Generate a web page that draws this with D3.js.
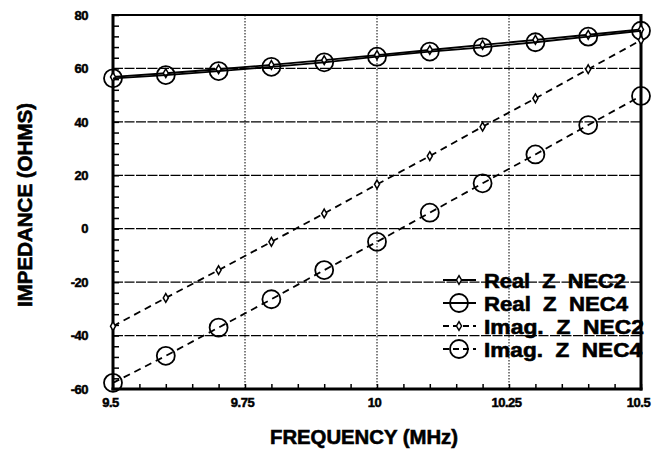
<!DOCTYPE html>
<html>
<head>
<meta charset="utf-8">
<script src="https://cdn.jsdelivr.net/npm/d3@7"></script>
<style>
  html, body { margin: 0; padding: 0; background: #fff; }
  svg { display: block; }
  text { font-family: "Liberation Sans", Arial, sans-serif; font-weight: bold; fill: #000; }
</style>
</head>
<body>
<svg id="chart" width="653" height="451"></svg>
<script>
// ---- data ----
const freqs = [9.5, 9.6, 9.7, 9.8, 9.9, 10.0, 10.1, 10.2, 10.3, 10.4, 10.5];
const realNEC2 = [56.8, 58.2, 59.7, 61.3, 63.1, 65.0, 66.9, 68.8, 70.7, 72.6, 74.6];
const realNEC4 = [56.3, 57.5, 59.0, 60.6, 62.3, 64.4, 66.3, 67.9, 69.8, 71.9, 74.1];
const imagNEC2 = [-36.5, -25.9, -15.5, -4.9, 5.7, 16.6, 27.2, 38.2, 48.8, 59.7, 70.6];
const imagNEC4 = [-57.7, -47.6, -37.0, -26.4, -15.5, -4.9, 6.0, 17.0, 27.8, 38.8, 49.7];
const xTickValues = [9.5, 9.75, 10, 10.25, 10.5];
const xTickLabels = ["9.5", "9.75", "10", "10.25", "10.5"];
const yTickValues = [-60, -40, -20, 0, 20, 40, 60, 80];
const yTickLabels = ["-60", "-40", "-20", "0", "20", "40", "60", "80"];
const seriesNames = ["Real  Z  NEC2", "Real  Z  NEC4", "Imag.  Z  NEC2", "Imag.  Z  NEC4"];
const xTitle = "FREQUENCY (MHz)";
const yTitle = "IMPEDANCE (OHMS)";

// ---- layout ----
const L = 113, R = 641, T = 15, B = 389;
const svg = d3.select("#chart");
const x = d3.scaleLinear().domain([9.5, 10.5]).range([L, R]);
const y = d3.scaleLinear().domain([-60, 80]).range([B, T]);

// gridlines
const gH = svg.append("g");
gH.selectAll("line").data([-40, -20, 0, 20, 40, 60]).enter().append("line")
  .attr("x1", L).attr("x2", R).attr("y1", d => y(d)).attr("y2", d => y(d))
  .attr("stroke", "#000").attr("stroke-width", 1.2).attr("stroke-dasharray", "10,1.5");
const gV = svg.append("g");
gV.selectAll("line").data([9.75, 10, 10.25]).enter().append("line")
  .attr("y1", T).attr("y2", B).attr("x1", d => x(d)).attr("x2", d => x(d))
  .attr("stroke", "#000").attr("stroke-width", 1).attr("stroke-dasharray", "1.5,1.5");

// minor ticks (inside)
const xMinor = d3.range(0, 21).map(i => 9.5 + i * 0.05);
const yMinor = d3.range(0, 36).map(i => -60 + i * 4);
svg.append("g").attr("transform", `translate(0,${B})`)
  .call(d3.axisBottom(x).tickValues(xMinor).tickSize(-5).tickFormat(""))
  .call(g => g.select(".domain").remove())
  .selectAll("line").attr("stroke-width", 1.5);
svg.append("g").attr("transform", `translate(${L},0)`)
  .call(d3.axisLeft(y).tickValues(yMinor).tickSize(-6).tickFormat(""))
  .call(g => g.select(".domain").remove())
  .selectAll("line").attr("stroke-width", 1.5);

// tick labels via axes
svg.append("g").attr("transform", `translate(-3,${B})`)
  .call(d3.axisBottom(x).tickValues(xTickValues).tickSize(0).tickPadding(9)
    .tickFormat((d, i) => xTickLabels[i]))
  .call(g => g.select(".domain").remove())
  .selectAll("text").style("font-size", "13px").style("font-family", "Liberation Sans, Arial, sans-serif")
  .style("font-weight", "bold").attr("stroke", "#000").attr("stroke-width", 0.5).attr("letter-spacing", "-0.5");
svg.append("g").attr("transform", `translate(${L},0)`)
  .call(d3.axisLeft(y).tickValues(yTickValues).tickSize(0).tickPadding(25)
    .tickFormat((d, i) => yTickLabels[i]))
  .call(g => g.select(".domain").remove())
  .selectAll("text").style("font-size", "13px").style("font-family", "Liberation Sans, Arial, sans-serif")
  .style("font-weight", "bold").attr("stroke", "#000").attr("stroke-width", 0.5).attr("letter-spacing", "-0.5");

// frame
svg.append("line").attr("x1", L).attr("x2", R).attr("y1", T).attr("y2", T).attr("stroke", "#000").attr("stroke-width", 2.2);
svg.append("line").attr("x1", L - 1.5).attr("x2", R + 1.5).attr("y1", B).attr("y2", B).attr("stroke", "#000").attr("stroke-width", 3);
svg.append("line").attr("x1", L).attr("x2", L).attr("y1", T - 1).attr("y2", B + 1.5).attr("stroke", "#000").attr("stroke-width", 3);
svg.append("line").attr("x1", R).attr("x2", R).attr("y1", T - 1).attr("y2", B + 1.5).attr("stroke", "#000").attr("stroke-width", 3);

// series
const series = [
  { vals: realNEC2, dash: null, marker: "diamond" },
  { vals: realNEC4, dash: null, marker: "circle" },
  { vals: imagNEC2, dash: "7,5", marker: "diamond" },
  { vals: imagNEC4, dash: "7,5", marker: "circle" }
];
const line = d3.line().x(d => x(d[0])).y(d => y(d[1]));
const diamondPath = d3.symbol().type(d3.symbolDiamond).size(22);

function drawMarker(g, kind, cx, cy) {
  if (kind === "circle") {
    g.append("circle").attr("cx", cx).attr("cy", cy).attr("r", 9)
      .attr("fill", "none").attr("stroke", "#000").attr("stroke-width", 1.8);
  } else {
    g.append("path").attr("d", diamondPath()).attr("transform", `translate(${cx},${cy})`)
      .attr("fill", "#fff").attr("stroke", "#000").attr("stroke-width", 1.5);
  }
}

series.forEach(s => {
  const pts = freqs.map((f, i) => [f, s.vals[i]]);
  svg.append("path").datum(pts).attr("d", line)
    .attr("fill", "none").attr("stroke", "#000").attr("stroke-width", 1.8)
    .attr("stroke-dasharray", s.dash);
  const g = svg.append("g");
  pts.forEach(p => drawMarker(g, s.marker, x(p[0]), y(p[1])));
});

// legend
const legRows = [280, 303, 326, 349];
const legWidths = [142, 144, 160, 158];
series.forEach((s, i) => {
  const ly = legRows[i];
  const g = svg.append("g");
  g.append("line").attr("x1", 443).attr("x2", 476).attr("y1", ly).attr("y2", ly)
    .attr("stroke", "#000").attr("stroke-width", 1.8).attr("stroke-dasharray", s.dash ? "6,4" : null);
  drawMarker(g, s.marker, 459, ly);
  g.append("text").attr("x", 484).attr("y", ly + 7.5)
    .attr("xml:space", "preserve")
    .attr("textLength", legWidths[i]).attr("lengthAdjust", "spacingAndGlyphs")
    .style("font-size", "20px").attr("stroke", "#000").attr("stroke-width", 0.6)
    .text(seriesNames[i]);
});

// axis titles
svg.append("text").attr("x", 364).attr("y", 444).attr("text-anchor", "middle")
  .style("font-size", "20px").attr("stroke", "#000").attr("stroke-width", 0.6)
  .attr("textLength", 188).attr("lengthAdjust", "spacingAndGlyphs")
  .text(xTitle);
svg.append("text").attr("transform", "translate(32,205) rotate(-90)").attr("text-anchor", "middle")
  .style("font-size", "20px").attr("stroke", "#000").attr("stroke-width", 0.6)
  .attr("textLength", 204).attr("lengthAdjust", "spacingAndGlyphs")
  .text(yTitle);
</script>
</body>
</html>
